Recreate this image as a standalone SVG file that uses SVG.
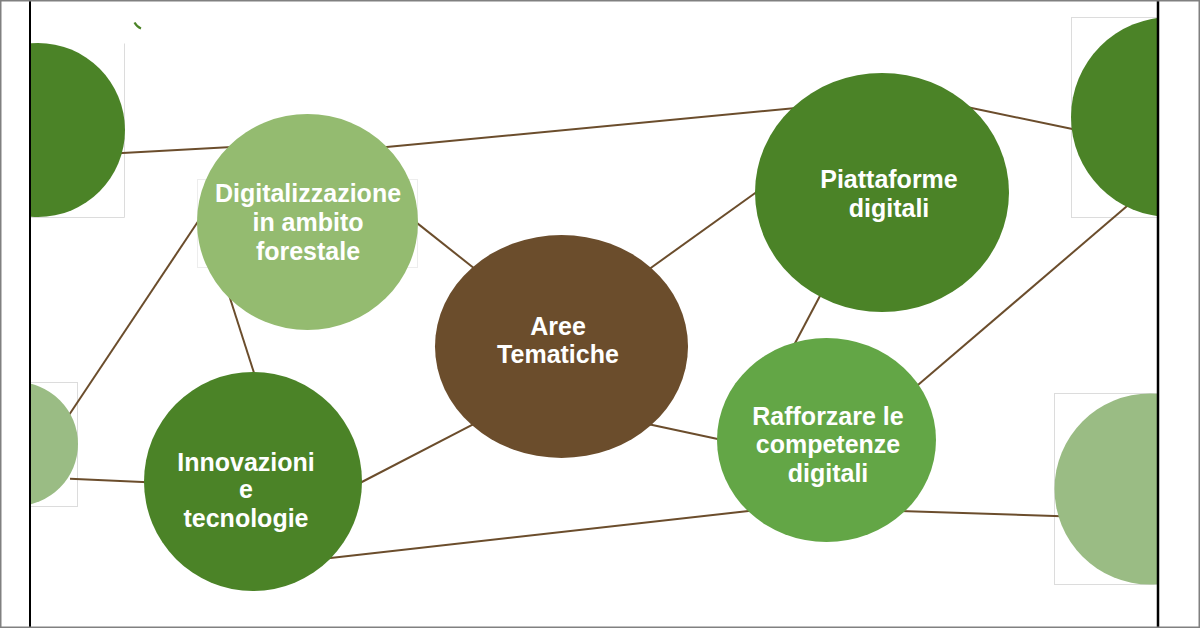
<svg xmlns="http://www.w3.org/2000/svg" width="1200" height="628" viewBox="0 0 1200 628">
<defs>
<style>
.lbl{font-family:"Liberation Sans",Arial,sans-serif;font-weight:bold;font-size:25px;fill:#ffffff;text-anchor:middle}
.ln{stroke:#6B4D2C;stroke-width:2;fill:none}
.frame{fill:none;stroke:#dcdcdc;stroke-width:1}
.frame2{fill:none;stroke:#ededed;stroke-width:1}
</style>
<clipPath id="stage"><rect x="31" y="0" width="1126" height="628"/></clipPath>
</defs>
<rect x="0" y="0" width="1200" height="628" fill="#ffffff"/>
<g clip-path="url(#stage)">
<g id="image-frames">
<path class="frame" d="M124.5,43.5 V217.5 H-49.5"/>
<rect class="frame" x="1071.5" y="17.5" width="200" height="200"/>
<rect class="frame" x="-46.5" y="382.5" width="124" height="124"/>
<rect class="frame" x="1054.5" y="393.5" width="191" height="191"/>
<rect class="frame2" x="197.5" y="179.5" width="220" height="88"/>
</g>
<g id="connectors">
<line class="ln" x1="118" y1="153.3" x2="232" y2="147"/>
<line class="ln" x1="384" y1="147.2" x2="796" y2="108"/>
<line class="ln" x1="968" y1="107.2" x2="1076" y2="129.8"/>
<line class="ln" x1="414" y1="220.6" x2="475" y2="269"/>
<line class="ln" x1="649" y1="269.2" x2="758" y2="191"/>
<line class="ln" x1="821" y1="294" x2="793" y2="347"/>
<line class="ln" x1="915" y1="387.6" x2="1130" y2="203.5"/>
<line class="ln" x1="650" y1="424.4" x2="720" y2="439.6"/>
<line class="ln" x1="900" y1="510.9" x2="1062" y2="516.2"/>
<line class="ln" x1="326" y1="558.4" x2="753" y2="510.5"/>
<line class="ln" x1="475" y1="423.4" x2="358" y2="484"/>
<line class="ln" x1="69" y1="415" x2="199" y2="220"/>
<line class="ln" x1="70" y1="478.8" x2="148" y2="482.2"/>
<line class="ln" x1="229" y1="295" x2="255" y2="376"/>
</g>
<g id="deco-left-top"><circle cx="38" cy="130" r="87" fill="#4B8327"/></g>
<g id="deco-right-top"><circle cx="1171" cy="117" r="100" fill="#4B8327"/></g>
<g id="deco-left-mid"><circle cx="16" cy="444" r="62" fill="#9ABC84"/></g>
<g id="deco-right-bottom"><circle cx="1150" cy="489" r="95.5" fill="#9ABC84"/></g>
<path d="M134.5,22.5 Q137,27 141,28.5" stroke="#4B8327" stroke-width="2.2" fill="none"/>
</g>
<g id="node-digitalizzazione">
<ellipse cx="307.5" cy="222" rx="110.5" ry="108" fill="#94BB70"/>
<text class="lbl" x="308" y="202">Digitalizzazione</text>
<text class="lbl" x="308" y="231">in ambito</text>
<text class="lbl" x="308" y="260">forestale</text>
</g>
<g id="node-aree">
<ellipse cx="561.5" cy="346.5" rx="126.5" ry="111.5" fill="#6B4D2C"/>
<text class="lbl" x="558" y="335">Aree</text>
<text class="lbl" x="558" y="363">Tematiche</text>
</g>
<g id="node-piattaforme">
<ellipse cx="882" cy="192.5" rx="127" ry="119.5" fill="#4B8327"/>
<text class="lbl" x="889" y="188">Piattaforme</text>
<text class="lbl" x="889" y="217">digitali</text>
</g>
<g id="node-rafforzare">
<ellipse cx="826.5" cy="440" rx="109.5" ry="102" fill="#63A646"/>
<text class="lbl" x="828" y="425">Rafforzare le</text>
<text class="lbl" x="828" y="453">competenze</text>
<text class="lbl" x="828" y="482">digitali</text>
</g>
<g id="node-innovazioni">
<ellipse cx="253" cy="481.5" rx="109" ry="109.5" fill="#4B8327"/>
<text class="lbl" x="246" y="471">Innovazioni</text>
<text class="lbl" x="246" y="498">e</text>
<text class="lbl" x="246" y="527">tecnologie</text>
</g>
<g id="borders">
<line x1="30" y1="0" x2="30" y2="628" stroke="#000000" stroke-width="2"/>
<line x1="1158" y1="0" x2="1158" y2="628" stroke="#000000" stroke-width="2.5"/>
<rect x="0.75" y="0.75" width="1198.5" height="626.5" fill="none" stroke="#808080" stroke-width="1.5"/>
</g>
</svg>
